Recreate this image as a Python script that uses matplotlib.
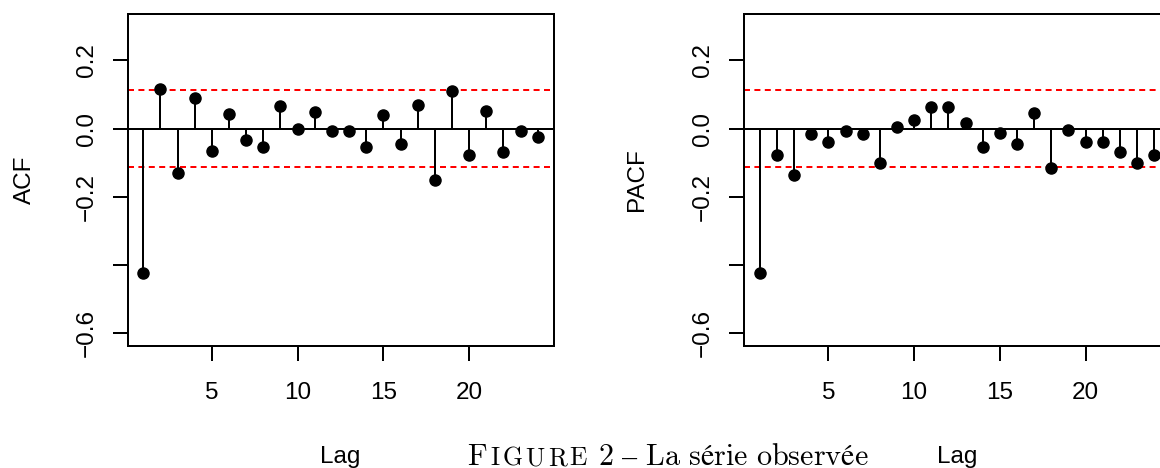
import matplotlib
matplotlib.use("Agg")
import matplotlib.pyplot as plt

plt.rcParams["font.family"] = ["Liberation Sans", "DejaVu Sans"]
plt.rcParams["mathtext.fontset"] = "cm"

# data
lags = list(range(1, 25))
acf_vals = [-0.424, 0.115, -0.131, 0.089, -0.064, 0.042, -0.033, -0.055,
            0.066, -0.002, 0.049, -0.008, -0.007, -0.055, 0.039, -0.046,
            0.069, -0.149, 0.110, -0.078, 0.052, -0.069, -0.007, -0.025]
pacf_vals = [-0.424, -0.078, -0.136, -0.017, -0.040, -0.008, -0.017, -0.102,
             0.004, 0.025, 0.064, 0.064, 0.017, -0.055, -0.014, -0.046,
             0.046, -0.115, -0.005, -0.040, -0.040, -0.069, -0.102, -0.078]
conf_bound = 0.1135
x_ticks = [5, 10, 15, 20]
y_ticks = [-0.6, -0.4, -0.2, 0.0, 0.2]
y_tick_labels = ["\u22120.6", "", "\u22120.2", "0.0", "0.2"]

W, H = 1160, 468
LW = 1.44
FS = 17.5

fig = plt.figure(figsize=(W / 100, H / 100), dpi=100)


def draw_panel(left_px, values, ylabel, ylabel_x):
    # axes placed in pixel units, right panel runs past the edge like the source
    ax = fig.add_axes([left_px / W, (H - 345.7) / H, 426 / W, 331.7 / H])
    ax.axhline(0, color="black", lw=LW)
    ax.axhline(conf_bound, color="red", lw=LW, ls=(0, (3.0, 2.2)))
    ax.axhline(-conf_bound, color="red", lw=LW, ls=(0, (3.0, 2.2)))
    ax.vlines(lags, 0, values, color="black", lw=LW)
    ax.plot(lags, values, "o", color="black", ms=8)
    ax.set_xlim(0.08, 24.92)
    ax.set_ylim(-0.636, 0.336)
    ax.set_xticks(x_ticks)
    ax.set_yticks(y_ticks)
    ax.set_yticklabels(y_tick_labels, rotation=90, va="center")
    ax.tick_params(axis="both", direction="out", length=11, width=LW, labelsize=FS)
    ax.tick_params(axis="x", pad=15)
    ax.tick_params(axis="y", pad=10.4)
    for s in ax.spines.values():
        s.set_linewidth(LW)
    ax.set_ylabel(ylabel, fontsize=FS, va="center")
    ax.yaxis.set_label_coords(ylabel_x, 0.5)
    ax.set_xlabel("Lag", fontsize=FS, va="baseline")
    ax.xaxis.set_label_coords(0.5, -0.3527)
    return ax


draw_panel(127.5, acf_vals, "ACF", -0.2406)
draw_panel(744, pacf_vals, "PACF", -0.2512)

# caption: small caps imitated letter by letter, spread over the width seen in the source
cap_fs = 21.7
r = fig.canvas.get_renderer()
y_base = 3 / H
cap_start, cap_word_end, cap_rest = 467.3, 587.0, 597.5
pieces = [fig.text(0, y_base, "F", fontfamily="cmr10", fontsize=cap_fs, va="baseline")]
for ch in "IGURE":
    pieces.append(fig.text(0, y_base, ch, fontfamily="cmr10",
                           fontsize=cap_fs * 0.85, va="baseline"))
widths = [p.get_window_extent(r).width for p in pieces]
gap = (cap_word_end - cap_start - sum(widths)) / (len(pieces) - 1)
x = cap_start
for p, w in zip(pieces, widths):
    p.set_x(x / W)
    x += w + gap
fig.text(cap_rest / W, y_base, "$\\mathrm{2\\ \u2013\\ La\\ s\u00e9rie\\ observ\u00e9e}$",
         fontsize=cap_fs, va="baseline")

plt.savefig("out.png", dpi=100)
